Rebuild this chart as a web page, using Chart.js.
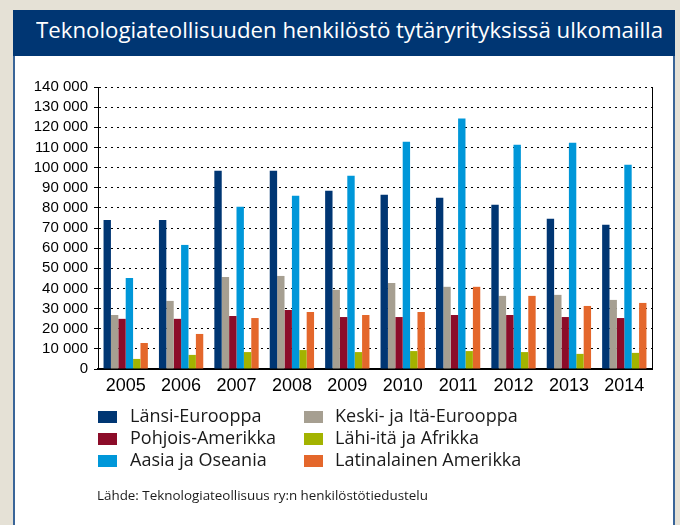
<!DOCTYPE html>
<html>
<head>
<meta charset="utf-8">
<script src="https://cdn.jsdelivr.net/npm/chart.js@4"></script>
<style>
  html, body { margin:0; padding:0; }
  body { width:680px; height:525px; background:#e5e1d6; position:relative; overflow:hidden; }
  #panel { position:absolute; left:13px; top:10px; width:658px; height:530px; background:#fff;
           border-left:2px solid #3a6598; border-right:2px solid #3a6598; }
  #titlebar { position:absolute; left:13px; top:10px; width:662px; height:46px; background:#003673; }
  #title { position:absolute; left:36px; top:16px; color:#fff; font-family:"Open Sans", sans-serif;
           font-size:21px; white-space:nowrap; transform-origin:0 0; }
  #chartwrap { position:absolute; left:0; top:0; width:680px; height:525px; }
  #legend { position:absolute; left:0; top:0; width:680px; height:525px; pointer-events:none;
            font-family:"Open Sans", sans-serif; color:#1a1a1a; }
  .sw { position:absolute; width:19px; height:12px; }
  .lt { position:absolute; font-size:18px; white-space:nowrap; line-height:1; }
  #source { position:absolute; left:97px; top:486px; font-family:"Open Sans", sans-serif; font-size:13.4px; color:#1a1a1a; white-space:nowrap; }
</style>
</head>
<body>
<div id="panel"></div>
<div id="titlebar"></div>
<div id="title">Teknologiateollisuuden henkilöstö tytäryrityksissä ulkomailla</div>
<div id="chartwrap"><canvas id="c" width="680" height="525"></canvas></div>
<div id="legend"></div>
<div id="source">Lähde: Teknologiateollisuus ry:n henkilöstötiedustelu</div>
<script>
const years = ["2005","2006","2007","2008","2009","2010","2011","2012","2013","2014"];
const seriesNames = ["Länsi-Eurooppa","Keski- ja Itä-Eurooppa","Pohjois-Amerikka","Aasia ja Oseania","Lähi-itä ja Afrikka","Latinalainen Amerikka"];
const lansiEurooppa   = [74000, 74000, 98400, 98400, 88500, 86500, 85000, 81500, 74600, 71600];
const keskiItaEurooppa= [26800, 33800, 45700, 46200, 39300, 42700, 40800, 36300, 36800, 34300];
const pohjoisAmerikka = [24900, 24900, 26300, 29300, 25800, 25800, 26800, 26800, 25800, 25300];
const aasiaOseania    = [45200, 61600, 80500, 86000, 95900, 112800, 124300, 111300, 112300, 101400];
const lahiitaAfrikka  = [5000, 7000, 8400, 9400, 8400, 8900, 8900, 8400, 7500, 8000];
const latinalainenAm  = [12900, 17400, 25300, 28300, 26800, 28300, 40800, 36300, 31300, 32800];
const yTicks = [0,10000,20000,30000,40000,50000,60000,70000,80000,90000,100000,110000,120000,130000,140000];

const colors = ["#003673","#a69f91","#8c0c29","#0097d9","#a3b300","#e4672b"];
const values = [lansiEurooppa, keskiItaEurooppa, pohjoisAmerikka, aasiaOseania, lahiitaAfrikka, latinalainenAm];
const legendOrder = [0,2,3,1,4,5];

const fmt = v => String(v).replace(/\B(?=(\d{3})+(?!\d))/g, ' ');

const rightBorder = {
  id:'rightBorder',
  afterDraw(chart){
    const {ctx, chartArea:a} = chart;
    ctx.save();
    ctx.strokeStyle = '#000'; ctx.lineWidth = 1;
    ctx.beginPath(); ctx.moveTo(a.right+0.5, a.top); ctx.lineTo(a.right+0.5, a.bottom); ctx.stroke();
    ctx.restore();
  }
};

const chart = new Chart(document.getElementById('c'), {
  type:'bar',
  data:{
    labels: years,
    datasets: seriesNames.map((n,i)=>({label:n, data:values[i], backgroundColor:colors[i],
      borderWidth:0, categoryPercentage:0.8, barPercentage:1.0}))
  },
  options:{
    responsive:false, animation:false,
    layout:{ padding:{ left:0, right:28, top:87, bottom:126 } },
    plugins:{ legend:{display:false}, title:{display:false}, tooltip:{enabled:false} },
    scales:{
      x:{
        grid:{ display:false, drawTicks:false },
        border:{ display:true, color:'#000', width:2 },
        ticks:{ color:'#000', font:{ family:'"Liberation Sans", Arial, sans-serif', size:18 }, padding:6, maxRotation:0 },
        afterFit(s){ s.height = 30; }
      },
      y:{
        min:0, max:140000,
        afterBuildTicks(s){ s.ticks = yTicks.map(v=>({value:v})); },
        grid:{ color:'#000', lineWidth:1, tickLength:4, tickBorderDash:[], drawTicks:true },
        border:{ display:true, color:'#000', width:1, dash:[2,4] },
        ticks:{ color:'#000', font:{ family:'"Liberation Sans", Arial, sans-serif', size:15 }, padding:6,
                autoSkip:false, callback:v=>fmt(v) },
        afterFit(s){ s.width = 98; }
      }
    }
  },
  plugins:[rightBorder]
});

// legend
const lg = document.getElementById('legend');
const colX = [[98,130],[304,335]];
const rowY = [411,433,455];
legendOrder.forEach((di,k)=>{
  const col = Math.floor(k/3), row = k%3;
  const ds = chart.data.datasets[di];
  const sw = document.createElement('div'); sw.className='sw';
  sw.style.left = colX[col][0]+'px'; sw.style.top = rowY[row]+'px'; sw.style.background = ds.backgroundColor;
  const t = document.createElement('div'); t.className='lt'; t.textContent = ds.label;
  t.style.left = colX[col][1]+'px'; t.style.top = (rowY[row]-5)+'px';
  lg.appendChild(sw); lg.appendChild(t);
});
// fit title width
const ti = document.getElementById('title');
const w = ti.getBoundingClientRect().width;
ti.style.transform = 'scaleX(' + (627/w) + ')';
</script>
</body>
</html>
